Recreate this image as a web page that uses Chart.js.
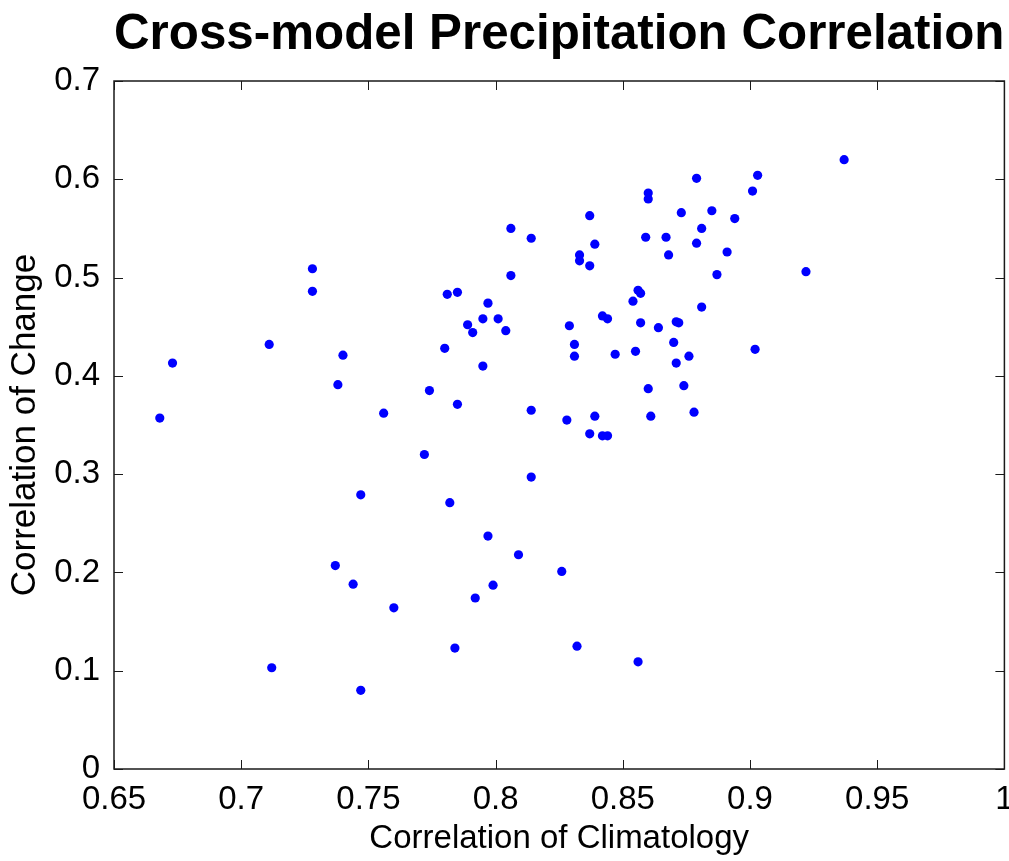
<!DOCTYPE html>
<html>
<head>
<meta charset="utf-8">
<script src="https://cdn.jsdelivr.net/npm/chart.js@4"></script>
<style>
  html, body { margin: 0; padding: 0; background: #fff; }
  #wrap { width: 1009px; height: 861px; }
</style>
</head>
<body>
<div id="wrap"><canvas id="chart" width="1009" height="861"></canvas></div>
<script>
// ── data ──
const climCorr = [
  0.668, 0.673, 0.711, 0.728, 0.728, 0.740, 0.738, 0.756, 0.747, 0.737,
  0.744, 0.760, 0.712, 0.747, 0.879, 0.860, 0.860, 0.837, 0.873, 0.885,
  0.806, 0.814, 0.859, 0.867, 0.881, 0.879, 0.839, 0.833, 0.833, 0.837,
  0.868, 0.887, 0.806, 0.781, 0.785, 0.797, 0.789, 0.791, 0.795, 0.801,
  0.804, 0.780, 0.795, 0.774, 0.785, 0.814, 0.828, 0.839, 0.837, 0.842,
  0.844, 0.856, 0.857, 0.854, 0.842, 0.844, 0.829, 0.831, 0.831, 0.847,
  0.855, 0.857, 0.864, 0.871, 0.872, 0.881, 0.870, 0.871, 0.876, 0.874,
  0.860, 0.861, 0.878, 0.937, 0.903, 0.901, 0.894, 0.891, 0.922, 0.902,
  0.772, 0.814, 0.782, 0.797, 0.809, 0.826, 0.799, 0.792, 0.784, 0.832,
  0.856
];
const changeCorr = [
  0.357, 0.413, 0.432, 0.509, 0.486, 0.421, 0.391, 0.362, 0.279, 0.207,
  0.188, 0.164, 0.103, 0.080, 0.601, 0.586, 0.580, 0.563, 0.566, 0.568,
  0.550, 0.540, 0.541, 0.541, 0.550, 0.535, 0.534, 0.523, 0.517, 0.512,
  0.523, 0.503, 0.502, 0.483, 0.485, 0.474, 0.452, 0.444, 0.458, 0.458,
  0.446, 0.428, 0.410, 0.385, 0.371, 0.365, 0.355, 0.359, 0.341, 0.339,
  0.339, 0.487, 0.484, 0.476, 0.461, 0.458, 0.451, 0.432, 0.420, 0.422,
  0.425, 0.454, 0.449, 0.455, 0.454, 0.470, 0.434, 0.413, 0.420, 0.390,
  0.387, 0.359, 0.363, 0.620, 0.604, 0.588, 0.560, 0.526, 0.506, 0.427,
  0.320, 0.297, 0.271, 0.237, 0.218, 0.201, 0.187, 0.174, 0.123, 0.125,
  0.109
];
const xTicks = [0.65, 0.7, 0.75, 0.8, 0.85, 0.9, 0.95, 1];
const yTicks = [0, 0.1, 0.2, 0.3, 0.4, 0.5, 0.6, 0.7];

const FONT = "'Liberation Sans', Arial, Helvetica, sans-serif";
const AXIS = '#1a1a1a';

const points = climCorr.map((x, i) => ({ x, y: changeCorr[i] }));

// box round the plot with inward ticks on all four sides
const matlabBox = {
  id: 'matlabBox',
  afterDatasetsDraw(chart) {
    const { ctx, chartArea: a, scales } = chart;
    const len = 9;
    ctx.save();
    ctx.strokeStyle = AXIS;
    ctx.lineWidth = 1.5;
    ctx.strokeRect(a.left, a.top, a.right - a.left, a.bottom - a.top);
    ctx.lineWidth = 1;
    ctx.beginPath();
    xTicks.forEach(v => {
      const px = Math.round(scales.x.getPixelForValue(v)) + 0.5;
      ctx.moveTo(px, a.bottom); ctx.lineTo(px, a.bottom - len);
      ctx.moveTo(px, a.top);    ctx.lineTo(px, a.top + len);
    });
    yTicks.forEach(v => {
      const py = Math.round(scales.y.getPixelForValue(v)) + 0.5;
      ctx.moveTo(a.left, py);  ctx.lineTo(a.left + len, py);
      ctx.moveTo(a.right, py); ctx.lineTo(a.right - len, py);
    });
    ctx.stroke();
    ctx.restore();
  }
};

new Chart(document.getElementById('chart'), {
  type: 'scatter',
  data: {
    datasets: [{
      data: points,
      backgroundColor: '#0000ff',
      borderWidth: 0,
      pointRadius: 4.6,
      pointHoverRadius: 4.6
    }]
  },
  options: {
    responsive: false,
    animation: false,
    events: [],
    layout: { padding: { left: 0, right: 2, top: 0, bottom: 0 } },
    plugins: {
      legend: { display: false },
      tooltip: { enabled: false },
      title: {
        display: true,
        fullSize: false,
        text: 'Cross-model Precipitation Correlation',
        color: '#000',
        font: { family: FONT, size: 50, weight: 'bold' },
        padding: { top: 5, bottom: 16 }
      }
    },
    scales: {
      x: {
        type: 'linear',
        position: 'bottom',
        min: 0.65, max: 1,
        afterBuildTicks: s => { s.ticks = xTicks.map(v => ({ value: v })); },
        afterFit: s => { s.height = 92; s.paddingLeft = 0; s.paddingRight = 0; },
        grid: { display: false, drawTicks: false },
        border: { display: false },
        ticks: {
          color: '#000', padding: 11, maxRotation: 0, autoSkip: false,
          font: { family: FONT, size: 33 },
          callback: v => String(v)
        },
        title: {
          display: true, text: 'Correlation of Climatology', color: '#000',
          font: { family: FONT, size: 33 }, padding: { top: 0, bottom: 2 }
        }
      },
      y: {
        type: 'linear',
        min: 0, max: 0.7,
        afterBuildTicks: s => { s.ticks = yTicks.map(v => ({ value: v })); },
        afterFit: s => { s.width = 114; s.paddingTop = 0; s.paddingBottom = 0; },
        grid: { display: false, drawTicks: false },
        border: { display: false },
        ticks: {
          color: '#000', padding: 14, autoSkip: false,
          font: { family: FONT, size: 33 },
          callback: v => String(v)
        },
        title: {
          display: true, text: 'Correlation of Change', color: '#000',
          font: { family: FONT, size: 35 }, padding: { top: 4, bottom: 0 }
        }
      }
    }
  },
  plugins: [matlabBox]
});
</script>
</body>
</html>
